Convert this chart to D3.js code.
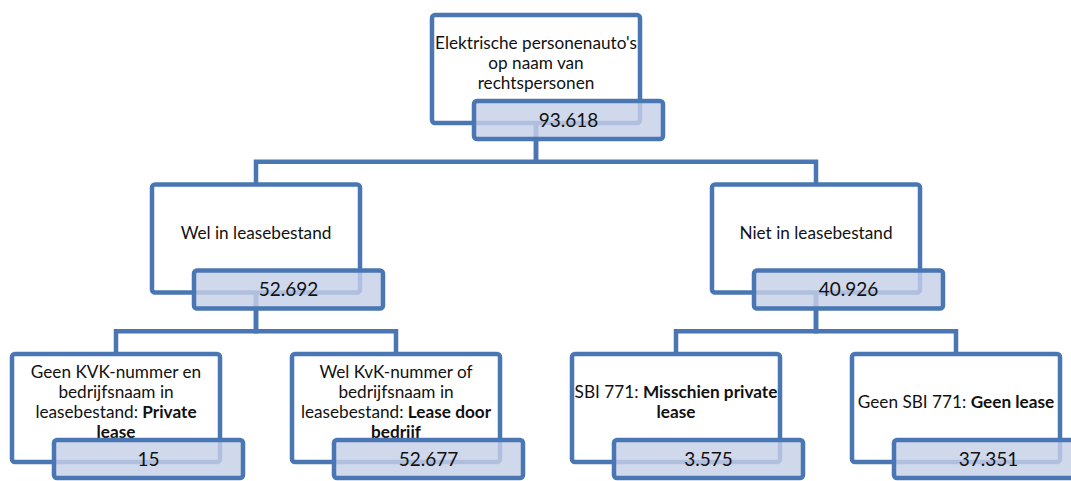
<!DOCTYPE html>
<html>
<head>
<meta charset="utf-8">
<script src="https://cdn.jsdelivr.net/npm/d3@7"></script>
<style>
  html, body { margin: 0; padding: 0; background: #fff; }
  svg { display: block; }
</style>
</head>
<body>
<div id="chart"></div>
<script>
// tree data: ids, parents, labels (\n = new line, **bold**) and counts
let nodeIds = ['root', 'wel', 'niet', 'private', 'bedrijf', 'misschien', 'geen']
let parentIds = ['', 'root', 'root', 'wel', 'wel', 'niet', 'niet']
let labels = [
    "Elektrische personenauto's\nop naam van\nrechtspersonen",
    'Wel in leasebestand',
    'Niet in leasebestand',
    'Geen KVK-nummer en\nbedrijfsnaam in\nleasebestand: **Private**\n**lease**',
    'Wel KvK-nummer of\nbedrijfsnaam in\nleasebestand: **Lease door**\n**bedrijf**',
    'SBI 771: **Misschien private**\n**lease**',
    'Geen SBI 771: **Geen lease**'
]
let counts = [93618, 52692, 40926, 15, 52677, 3575, 37351]

let svgWidth = 1071,
    svgHeight = 481

let boxW = 208,      // main box
    boxH = 108,
    valW = 189,      // value box
    valH = 38,
    valDx = 42,      // value box offset from main box left
    valDy = 22,      // value box overlap with main box bottom
    lineH = 19.7

let blue = '#4a77b3'

let nl = d3.formatLocale({ decimal: ',', thousands: '.', grouping: [3], currency: ['€', ''] })
let fmt = nl.format(',d')

let svg = d3.select('#chart')
    .append('svg')
    .attr('width', svgWidth)
    .attr('height', svgHeight)

let table = nodeIds.map((id, i) => ({ id: id, parent: parentIds[i], label: labels[i], count: counts[i] }))
let root = d3.stratify()
    .id(d => d.id)
    .parentId(d => d.parent || null)(table)

// equal spacing between all boxes on a level
d3.tree().nodeSize([280, 1]).separation(() => 1)(root)

let x = d3.scaleLinear().domain([-420, 420]).range([116, 956])
let y = d3.scaleLinear().domain([0, 2]).range([15, 354])

let nodes = root.descendants()

// connectors (drawn first, boxes go over them)
svg.append('g')
    .selectAll('path')
    .data(root.links())
    .enter().append('path')
    .attr('fill', 'none')
    .attr('stroke', blue)
    .attr('stroke-width', 4.5)
    .attr('d', d => {
        let px = x(d.source.x), cx = x(d.target.x)
        let pTop = y(d.source.depth) + boxH / 2
        let cTop = y(d.target.depth)
        let midY = (y(d.source.depth) + boxH - valDy + valH + cTop) / 2
        return `M${px},${pTop}V${midY}H${cx}V${cTop}`
    })

// main boxes
let boxes = svg.append('g')
    .selectAll('g')
    .data(nodes)
    .enter().append('g')
    .attr('transform', d => `translate(${x(d.x) - boxW / 2},${y(d.depth)})`)

boxes.append('rect')
    .attr('width', boxW)
    .attr('height', boxH)
    .attr('rx', 3)
    .attr('fill', '#fff')
    .attr('stroke', blue)
    .attr('stroke-width', 4.5)

// value boxes
let vals = svg.append('g')
    .selectAll('g')
    .data(nodes)
    .enter().append('g')
    .attr('transform', d => `translate(${x(d.x) - boxW / 2 + valDx},${y(d.depth) + boxH - valDy})`)

vals.append('rect')
    .attr('width', valW)
    .attr('height', valH)
    .attr('rx', 3)
    .attr('fill', 'rgba(198,208,230,0.82)')
    .attr('stroke', blue)
    .attr('stroke-width', 4.5)

vals.append('text')
    .attr('x', valW / 2)
    .attr('y', valH / 2)
    .attr('dy', '0.35em')
    .attr('text-anchor', 'middle')
    .attr('font-family', 'Lato, sans-serif')
    .attr('font-size', '19px')
    .attr('fill', '#111')
    .text(d => fmt(d.data.count))

// labels, line by line with bold parts
boxes.each(function(d) {
    let lines = d.data.label.split('\n')
    let t = d3.select(this).append('text')
        .attr('text-anchor', 'middle')
        .attr('font-family', 'Lato, sans-serif')
        .attr('font-size', '17.2px')
        .attr('fill', '#111')
    let y0 = boxH / 2 - 6 - (lines.length - 1) * lineH / 2
    lines.forEach((line, i) => {
        let parts = line.split('**')
        parts.forEach((p, j) => {
            if (!p) return
            let ts = t.append('tspan').text(p)
                .attr('font-weight', j % 2 ? 'bold' : null)
            if (j === 0 || (j === 1 && !parts[0])) {
                ts.attr('x', boxW / 2).attr('y', y0 + i * lineH).attr('dy', '0.35em')
            }
        })
    })
})
</script>
</body>
</html>
